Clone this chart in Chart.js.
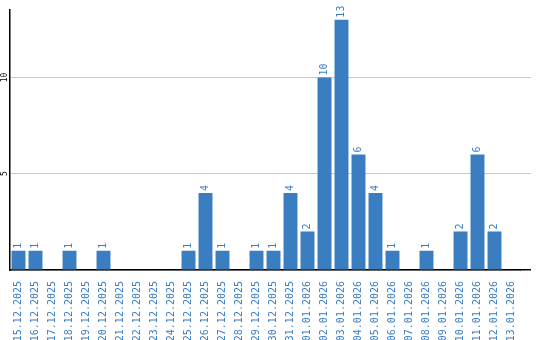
<!DOCTYPE html>
<html>
<head>
<meta charset="utf-8">
<script src="https://cdn.jsdelivr.net/npm/chart.js@4/dist/chart.umd.min.js"></script>
<style>
  body { margin: 0; background: #fff; }
</style>
</head>
<body>
<canvas id="chart" width="540" height="340"></canvas>
<script>
const labels = [
    '15.12.2025', '16.12.2025', '17.12.2025', '18.12.2025', '19.12.2025', '20.12.2025',
    '21.12.2025', '22.12.2025', '23.12.2025', '24.12.2025', '25.12.2025', '26.12.2025',
    '27.12.2025', '28.12.2025', '29.12.2025', '30.12.2025', '31.12.2025', '01.01.2026',
    '02.01.2026', '03.01.2026', '04.01.2026', '05.01.2026', '06.01.2026', '07.01.2026',
    '08.01.2026', '09.01.2026', '10.01.2026', '11.01.2026', '12.01.2026', '13.01.2026'
]
const values = [1, 1, 0, 1, 0, 1, 0, 0, 0, 0, 1, 4, 1, 0, 1, 1, 4, 2, 10, 13, 6, 4, 1, 0, 1, 0, 2, 6, 2, 0]
const yTicks = [0, 5, 10]

const blue = '#3b7dc1'
const mono = "'DejaVu Sans Mono', 'Liberation Mono', monospace"

// value labels above bars, rotated
const barLabels = {
    id: 'barLabels',
    afterDatasetsDraw(chart) {
        const ctx = chart.ctx
        const meta = chart.getDatasetMeta(0)
        ctx.save()
        ctx.fillStyle = blue
        ctx.font = '10px ' + mono
        ctx.textAlign = 'left'
        ctx.textBaseline = 'middle'
        meta.data.forEach((bar, i) => {
            if(!values[i]) return
            ctx.save()
            ctx.translate(bar.x, bar.y - 2)
            ctx.rotate(-Math.PI / 2)
            ctx.fillText(String(values[i]), 0, 0)
            ctx.restore()
        })
        ctx.restore()
    }
}

// y tick labels, rotated, plus grid/axis running past the last category
const yLabels = {
    id: 'yLabels',
    afterDraw(chart) {
        const ctx = chart.ctx
        const y = chart.scales.y
        const area = chart.chartArea
        ctx.save()
        ctx.fillStyle = '#000'
        ctx.font = '8px ' + mono
        ctx.textAlign = 'center'
        ctx.textBaseline = 'middle'
        yTicks.filter(v => v > 0).forEach(v => {
            ctx.save()
            ctx.translate(5, y.getPixelForValue(v))
            ctx.rotate(-Math.PI / 2)
            ctx.fillText(String(v), 0, 0)
            ctx.restore()

            const py = Math.round(y.getPixelForValue(v) - 0.5) + 0.5
            ctx.strokeStyle = '#c8c8c8'
            ctx.lineWidth = 1
            ctx.beginPath()
            ctx.moveTo(area.right, py)
            ctx.lineTo(area.right + 11, py)
            ctx.stroke()
        })
        const py0 = Math.round(y.getPixelForValue(0) - 0.75) + 0.75
        ctx.strokeStyle = '#000'
        ctx.lineWidth = 1.5
        ctx.beginPath()
        ctx.moveTo(area.right, py0)
        ctx.lineTo(area.right + 11, py0)
        ctx.stroke()
        ctx.restore()
    }
}

new Chart(document.getElementById('chart'), {
    type: 'bar',
    data: {
        labels,
        datasets: [{
            data: values,
            backgroundColor: blue,
            barPercentage: 0.82,
            categoryPercentage: 1
        }]
    },
    options: {
        responsive: false,
        animation: false,
        layout: { padding: { left: 10, top: 10, right: 20, bottom: 0 } },
        plugins: { legend: { display: false }, tooltip: { enabled: false } },
        scales: {
            x: {
                afterFit: scale => { scale.height = 70 },
                grid: { display: false },
                border: { color: '#000', width: 1.5 },
                ticks: {
                    color: blue,
                    font: { family: mono, size: 10 },
                    minRotation: 90,
                    maxRotation: 90,
                    autoSkip: false,
                    padding: 3
                }
            },
            y: {
                min: 0,
                max: 13.5,
                afterBuildTicks: scale => { scale.ticks = yTicks.map(v => ({ value: v })) },
                ticks: { display: false },
                grid: { color: '#c8c8c8', drawTicks: false },
                border: { color: '#000', width: 1.5 }
            }
        }
    },
    plugins: [barLabels, yLabels]
})
</script>
</body>
</html>
